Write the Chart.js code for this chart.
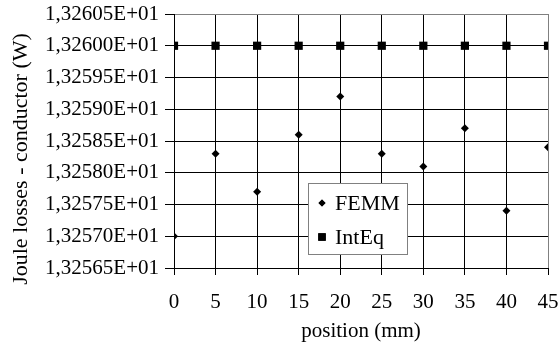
<!DOCTYPE html>
<html>
<head>
<meta charset="utf-8">
<script src="https://cdn.jsdelivr.net/npm/chart.js@4.4.0/dist/chart.umd.min.js"></script>
<style>
  html, body { margin: 0; padding: 0; background: #fff; }
  #wrap { width: 560px; height: 350px; }
</style>
</head>
<body>
<div id="wrap"><canvas id="chart"></canvas></div>
<script>
/* données */
const positions = [0, 5, 10, 15, 20, 25, 30, 35, 40, 45];
const femm  = [13.2570, 13.2583, 13.2577, 13.2586, 13.2592, 13.2583, 13.2581, 13.2587, 13.2574, 13.2584];
const inteq = [13.2600, 13.2600, 13.2600, 13.2600, 13.2600, 13.2600, 13.2600, 13.2600, 13.2600, 13.2600];
const xTicks = [0, 5, 10, 15, 20, 25, 30, 35, 40, 45];
const yTicks = [13.2565, 13.2570, 13.2575, 13.2580, 13.2585, 13.2590, 13.2595, 13.2600, 13.2605];
const yTitle = "Joule losses - conductor (W)";

const FONT = "'Liberation Serif', 'Times New Roman', serif";

// 13.2605 -> "1,32605E+01"
function sci(v){
  const s = String(Math.round(v * 10000));
  return s[0] + "," + s.slice(1) + "E+01";
}

const toPts = (ys) => positions.map((x, i) => ({ x, y: ys[i] }));

/* titre Y : centré un peu plus bas que la zone de tracé, comme l'original */
const yTitlePlugin = {
  id: "yTitle",
  afterDraw(chart){
    const { ctx } = chart;
    ctx.save();
    ctx.translate(21, 159);
    ctx.rotate(-Math.PI / 2);
    ctx.font = "22px " + FONT;
    ctx.fillStyle = "#000";
    ctx.textAlign = "center";
    ctx.textBaseline = "middle";
    ctx.fillText(yTitle, 0, 0);
    ctx.restore();
  }
};

/* légende encadrée dans la zone du graphe */
const boxLegend = {
  id: "boxLegend",
  afterDatasetsDraw(chart){
    const { ctx } = chart;
    const x = 308, y = 183, w = 99, h = 71;
    ctx.save();
    ctx.fillStyle = "#fff";
    ctx.fillRect(x, y, w, h);
    ctx.strokeStyle = "#808080";
    ctx.lineWidth = 1;
    ctx.strokeRect(x + 0.5, y + 0.5, w, h);
    ctx.font = "22px " + FONT;
    ctx.fillStyle = "#000";
    ctx.textBaseline = "middle";
    chart.data.datasets.forEach((ds, i) => {
      const cy = y + 20 + i * 34;
      Chart.helpers.drawPoint(ctx, {
        pointStyle: ds.pointStyle, radius: ds.pointRadius - 0.5, rotation: 0, borderWidth: 0
      }, x + 14, cy);
      ctx.fill();
      ctx.fillText(ds.label, x + 27, cy + 1);
    });
    ctx.restore();
  }
};

new Chart(document.getElementById("chart"), {
  type: "scatter",
  data: {
    datasets: [
      { label: "FEMM", data: toPts(femm), pointStyle: "rectRot", pointRadius: 4,
        backgroundColor: "#000", borderColor: "#000", borderWidth: 0 },
      { label: "IntEq", data: toPts(inteq), pointStyle: "rect", pointRadius: 5.8,
        backgroundColor: "#000", borderColor: "#000", borderWidth: 0 }
    ]
  },
  options: {
    responsive: true,
    maintainAspectRatio: false,
    animation: false,
    layout: { padding: { top: 14, right: 12, left: 0, bottom: 0 } },
    plugins: { legend: { display: false }, tooltip: { enabled: false } },
    scales: {
      x: {
        type: "linear", min: 0, max: 45,
        afterBuildTicks: (s) => { s.ticks = xTicks.map(v => ({ value: v })); },
        afterFit: (s) => { s.height = 82; s.paddingLeft = 0; s.paddingRight = 0; },
        grid: {
          color: (c) => c.tick && c.tick.value === 45 ? "#808080" : "#000",
          tickColor: "#000", tickLength: 7, lineWidth: 1
        },
        border: { color: "#000", width: 1 },
        ticks: { color: "#000", font: { family: FONT, size: 21 }, padding: 15,
          maxRotation: 0, autoSkip: false },
        title: { display: true, text: "position (mm)", color: "#000",
          font: { family: FONT, size: 21 }, padding: { top: 0, bottom: 6 } }
      },
      y: {
        type: "linear", min: 13.2565, max: 13.2605,
        afterBuildTicks: (s) => { s.ticks = yTicks.map(v => ({ value: v })); },
        afterFit: (s) => { s.width = 174; s.paddingTop = 0; s.paddingBottom = 0; },
        grid: {
          color: (c) => c.tick && c.tick.value === 13.2605 ? "#808080" : "#000",
          tickColor: "#000", tickLength: 9, lineWidth: 1
        },
        border: { color: "#000", width: 1 },
        ticks: { color: "#000", font: { family: FONT, size: 21 }, padding: 6,
          autoSkip: false, callback: (v) => sci(v) },
        title: { display: false }
      }
    }
  },
  plugins: [boxLegend, yTitlePlugin]
});
</script>
</body>
</html>
